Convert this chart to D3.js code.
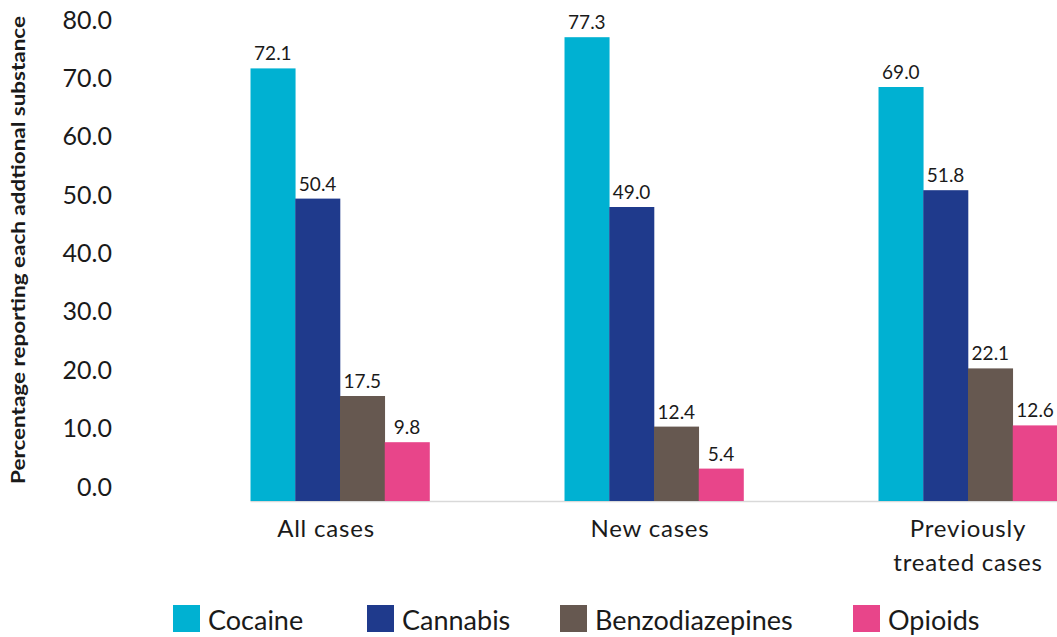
<!DOCTYPE html>
<html>
<head>
<meta charset="utf-8">
<script src="https://cdn.jsdelivr.net/npm/d3@7"></script>
<style>
  body { margin: 0; background: #fff; }
  svg text { font-family: Lato, "Noto Sans", sans-serif; fill: #1a1a1a; }
</style>
</head>
<body>
<div id="chart"></div>
<script>
// data
var groups = ["All cases", "New cases", "Previously treated cases"];
var substances = ["Cocaine", "Cannabis", "Benzodiazepines", "Opioids"];
var cocaine = [72.1, 77.3, 69.0];
var cannabis = [50.4, 49.0, 51.8];
var benzos = [17.5, 12.4, 22.1];
var opioids = [9.8, 5.4, 12.6];
var yTicks = [0, 10, 20, 30, 40, 50, 60, 70, 80];
var colors = ["#00b1d2", "#1f3a8c", "#665850", "#e8458a"];

var series = [cocaine, cannabis, benzos, opioids];

var width = 1057, height = 637;

var svg = d3.select("#chart")
  .append("svg")
  .attr("width", width)
  .attr("height", height);

// bar scale
var y = d3.scaleLinear().domain([0, 80]).range([501, 21]);
// tick labels sit a little off the bars in the original
var yLab = d3.scaleLinear().domain([0, 80]).range([487, 20]);

var x0 = d3.scaleBand()
  .domain(groups)
  .range([183, 1125])
  .paddingInner(0.43)
  .paddingOuter(0.215);

var x1 = d3.scaleBand()
  .domain(substances)
  .range([0, x0.bandwidth()]);

// y axis labels
var yAxis = d3.axisLeft(yLab)
  .tickValues(yTicks)
  .tickFormat(d3.format(".1f"))
  .tickSize(0)
  .tickPadding(0);

var ay = svg.append("g")
  .attr("transform", "translate(112,0)")
  .call(yAxis);
ay.select(".domain").remove();
ay.selectAll("text")
  .style("font-family", "Lato, 'Noto Sans', sans-serif")
  .style("font-size", "25px")
  .style("fill", "#1a1a1a");

// y title
svg.append("text")
  .attr("transform", "translate(25,250) rotate(-90)")
  .attr("text-anchor", "middle")
  .attr("textLength", 468)
  .attr("lengthAdjust", "spacingAndGlyphs")
  .style("font-size", "18px")
  .style("font-weight", "bold")
  .text("Percentage reporting  each addtional substance");

// baseline
svg.append("line")
  .attr("x1", x0(groups[0]))
  .attr("x2", width)
  .attr("y1", y(0) + 0.5)
  .attr("y2", y(0) + 0.5)
  .style("stroke", "#d9d9d9")
  .style("stroke-width", 1.5);

// bars
var g = svg.append("g");
groups.forEach(function(grp, gi) {
  substances.forEach(function(s, si) {
    var v = series[si][gi];
    var bx = x0(grp) + x1(s);
    g.append("rect")
      .attr("x", bx)
      .attr("y", y(v))
      .attr("width", x1.bandwidth() + 0.3)
      .attr("height", y(0) - y(v))
      .style("fill", colors[si]);
    g.append("text")
      .attr("x", bx + x1.bandwidth() / 2)
      .attr("y", y(v) - 8)
      .attr("text-anchor", "middle")
      .style("font-size", "19px")
      .text(d3.format(".1f")(v));
  });
});

// category labels
var catLines = {
  "All cases": ["All cases"],
  "New cases": ["New cases"],
  "Previously treated cases": ["Previously", "treated cases"]
};
var catShift = { "All cases": -14, "New cases": -4, "Previously treated cases": 0 };
groups.forEach(function(grp) {
  var t = svg.append("text")
    .attr("text-anchor", "middle")
    .style("font-size", "24px")
    .style("letter-spacing", "0.8px");
  catLines[grp].forEach(function(line, i) {
    t.append("tspan")
      .attr("x", x0(grp) + x0.bandwidth() / 2 + catShift[grp])
      .attr("y", 537 + i * 34)
      .text(line);
  });
});

// legend
var legendX = [173, 367, 560, 853];
var lg = svg.append("g");
substances.forEach(function(s, i) {
  lg.append("rect")
    .attr("x", legendX[i])
    .attr("y", 605)
    .attr("width", 27)
    .attr("height", 27)
    .style("fill", colors[i]);
  lg.append("text")
    .attr("x", legendX[i] + 35)
    .attr("y", 630)
    .style("font-size", "27px")
    .text(s);
});
</script>
</body>
</html>
